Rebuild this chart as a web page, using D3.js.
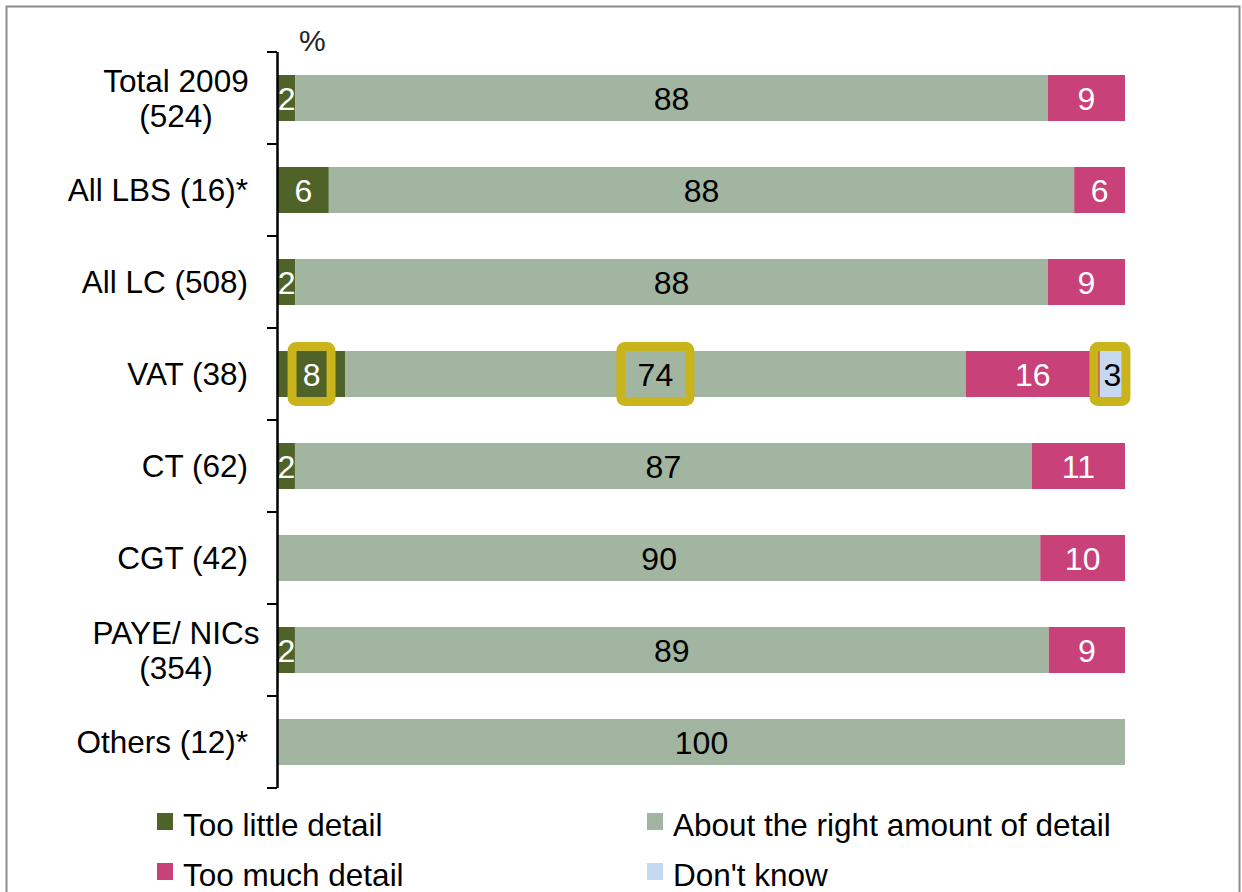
<!DOCTYPE html>
<html>
<head>
<meta charset="utf-8">
<script src="https://cdn.jsdelivr.net/npm/d3@7"></script>
<style>
  html, body { margin: 0; padding: 0; background: #fff; }
  svg { display: block; font-family: "Liberation Sans", Arial, sans-serif; }
</style>
</head>
<body>
<svg id="chart"></svg>
<script>
// chart data
const categories = ["Total 2009\n(524)", "All LBS (16)*", "All LC (508)", "VAT (38)", "CT (62)", "CGT (42)", "PAYE/ NICs\n(354)", "Others (12)*"];
const seriesNames = ["Too little detail", "About the right amount of detail", "Too much detail", "Don't know"];
const tooLittle = [2, 6, 2, 8, 2, 0, 2, 0];
const aboutRight = [88, 88, 88, 74, 87, 90, 89, 100];
const tooMuch = [9, 6, 9, 16, 11, 10, 9, 0];
const dontKnow = [0, 0, 0, 3, 0, 0, 0, 0];
// highlighted labels: [category index, series index]
const highlights = [[3, 0], [3, 1], [3, 3]];

const colors = ["#4f6228", "#a2b5a0", "#c84178", "#c6d9f0"];
const labelColors = ["#fff", "#000", "#fff", "#000"];
const boxWidths = [39, 69, 32];

const W = 1242, H = 892;
const svg = d3.select("#chart").attr("width", W).attr("height", H);

svg.append("rect")
    .attr("x", 6.5).attr("y", 6.5)
    .attr("width", 1233).attr("height", 900)
    .attr("fill", "#fff")
    .attr("stroke", "#8c8c8c")
    .attr("stroke-width", 2);

const x0 = 278, x1 = 1125, yTop = 52, yBot = 788;

const rows = categories.map((c, i) => {
    const vals = [tooLittle[i], aboutRight[i], tooMuch[i], dontKnow[i]];
    const total = d3.sum(vals);
    let acc = 0;
    const segs = vals.map((v, k) => {
        const s = { k, v, start: acc / total, end: (acc + v) / total };
        acc += v;
        return s;
    });
    return { c, i, segs };
});

const x = d3.scaleLinear().domain([0, 1]).range([x0, x1]);
const y = d3.scaleBand().domain(d3.range(categories.length)).range([yTop, yBot]).paddingInner(0.5).paddingOuter(0.25);

// bars
const g = svg.append("g");
rows.forEach(r => {
    const segs = r.segs.filter(s => s.v > 0);
    g.selectAll(null)
        .data(segs)
        .enter()
        .append("rect")
        .attr("x", s => x(s.start))
        .attr("width", s => x(s.end) - x(s.start))
        .attr("y", y(r.i))
        .attr("height", y.bandwidth())
        .attr("fill", s => colors[s.k]);
});

// highlight boxes (drawn under labels)
highlights.forEach(([ri, k], j) => {
    const s = rows[ri].segs[k];
    const cx = (x(s.start) + x(s.end)) / 2 - (k === 3 ? 2.5 : 0);
    const cy = y(ri) + y.bandwidth() / 2;
    const bw = boxWidths[j], bh = 55;
    svg.append("rect")
        .attr("x", cx - bw / 2).attr("y", cy - bh / 2)
        .attr("width", bw).attr("height", bh)
        .attr("rx", 4)
        .attr("fill", "none")
        .attr("stroke", "#c9b41c")
        .attr("stroke-width", 9);
});

// value labels
rows.forEach(r => {
    const segs = r.segs.filter(s => s.v > 0);
    svg.selectAll(null)
        .data(segs)
        .enter()
        .append("text")
        .attr("x", s => (x(s.start) + x(s.end)) / 2)
        .attr("y", y(r.i) + y.bandwidth() / 2 + 12)
        .attr("text-anchor", "middle")
        .attr("font-size", 32)
        .attr("fill", s => labelColors[s.k])
        .text(s => s.v);
});

// y axis
const ticks = d3.range(categories.length + 1).map(i => yTop + i * (yBot - yTop) / categories.length);
svg.append("line")
    .attr("x1", 277.5).attr("x2", 277.5)
    .attr("y1", yTop).attr("y2", yBot)
    .attr("stroke", "#000").attr("stroke-width", 2.5);
svg.selectAll(".tick")
    .data(ticks)
    .enter()
    .append("line")
    .attr("x1", 267).attr("x2", 277)
    .attr("y1", d => d).attr("y2", d => d)
    .attr("stroke", "#000").attr("stroke-width", 2);

// category labels
rows.forEach(r => {
    const lines = r.c.split("\n");
    const cy = y(r.i) + y.bandwidth() / 2;
    const t = svg.append("text")
        .attr("font-size", 31.5)
        .attr("fill", "#000");
    lines.forEach((ln, li) => {
        t.append("tspan")
            .attr("x", lines.length > 1 ? 176 : 248)
            .attr("text-anchor", lines.length > 1 ? "middle" : "end")
            .attr("y", cy + 11 + (li - (lines.length - 1) / 2) * 35)
            .text(ln);
    });
});

svg.append("text")
    .attr("x", 299).attr("y", 51)
    .attr("font-size", 30)
    .attr("fill", "#222")
    .text("%");

// legend
const legendPos = [[157, 813], [647, 813], [157, 863], [647, 863]];
const legendOrder = [0, 1, 2, 3];
const leg = svg.selectAll(".leg")
    .data(legendOrder)
    .enter()
    .append("g")
    .attr("transform", k => `translate(${legendPos[k][0]},${legendPos[k][1]})`);
leg.append("rect")
    .attr("width", 16).attr("height", 17)
    .attr("fill", k => colors[k]);
leg.append("text")
    .attr("x", 26).attr("y", 23)
    .attr("font-size", 31.5)
    .attr("fill", "#000")
    .text(k => seriesNames[k]);
</script>
</body>
</html>
